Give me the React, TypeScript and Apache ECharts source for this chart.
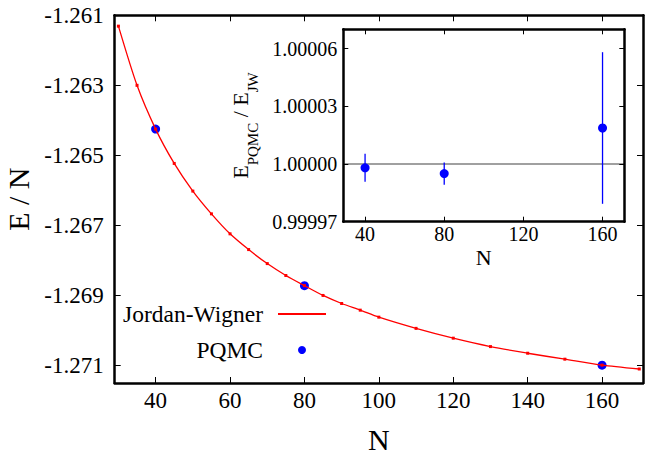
import React, { useEffect, useRef } from "react";
import * as echarts from "echarts";

// Jordan-Wigner curve (main panel)
const jwN = [30, 35, 40, 45, 50, 55, 60, 65, 70, 75, 80, 85, 90, 95, 100, 110, 120, 130, 140, 150, 160, 170];
const jwE = [
  -1.26131, -1.263, -1.26425, -1.26523, -1.26602, -1.26667, -1.26724, -1.26769, -1.26809, -1.26843,
  -1.26872, -1.269, -1.26923, -1.26942, -1.26962, -1.26994, -1.27022, -1.27046, -1.27065, -1.27082,
  -1.27099, -1.2711,
];

// PQMC points (main panel)
const pqmcN = [40, 80, 160];
const pqmcE = [-1.26425, -1.26872, -1.27099];

// Inset: ratio E_PQMC / E_JW with error bars
const ratio = [0.999998, 0.999995, 1.0000187];
const ratioErr = [0.0000073, 0.0000058, 0.0000394];

// Tick values
const mainXTicks = [40, 60, 80, 100, 120, 140, 160];
const mainYTicks = [-1.271, -1.269, -1.267, -1.265, -1.263, -1.261];
const insetXTicks = [40, 80, 120, 160];
const insetYTicks = [0.99997, 1.0, 1.00003, 1.00006];

const SERIF = "Liberation Serif";

export default function App() {
  const ref = useRef<HTMLDivElement>(null);

  useEffect(() => {
    if (!ref.current) return;
    const chart = echarts.init(ref.current, undefined, { renderer: "svg" });

    const frameLine = { lineStyle: { color: "#000", width: 2.5 } };
    const tickStyle = { color: "#000", width: 1 };

    const mkX = (grid: number, pos: string, ticks: number[], len: number, labels: boolean, extra: any = {}) => ({
      type: "value",
      gridIndex: grid,
      position: pos,
      min: 29,
      max: 171,
      axisLine: { show: true, onZero: false, ...frameLine },
      axisTick: { show: true, inside: true, length: len, customValues: ticks, lineStyle: tickStyle },
      axisLabel: labels
        ? { show: true, customValues: ticks, fontFamily: SERIF, color: "#000", ...(extra.label || {}) }
        : { show: false },
      splitLine: { show: false },
      ...(extra.axis || {}),
    });

    const mkY = (grid: number, pos: string, min: number, max: number, ticks: number[], len: number, labels: boolean, extra: any = {}) => ({
      type: "value",
      gridIndex: grid,
      position: pos,
      min,
      max,
      scale: true,
      axisLine: { show: true, onZero: false, ...frameLine },
      axisTick: { show: true, inside: true, length: len, customValues: ticks, lineStyle: tickStyle },
      axisLabel: labels
        ? { show: true, customValues: ticks, fontFamily: SERIF, color: "#000", ...(extra.label || {}) }
        : { show: false },
      splitLine: { show: false },
      ...(extra.axis || {}),
    });

    const option: any = {
      animation: false,
      backgroundColor: "#fff",
      textStyle: { fontFamily: SERIF },
      grid: [
        { left: 114.7, right: 8, top: 15.3, bottom: 73, containLabel: false, outerBoundsMode: "none" },
        {
          left: 343.3, right: 26.7, top: 29.3, bottom: 234.3, containLabel: false, outerBoundsMode: "none",
          show: true, backgroundColor: "#fff", borderWidth: 0, z: 5,
        },
      ],
      xAxis: [
        mkX(0, "bottom", mainXTicks, 6, true, {
          label: { fontSize: 23, margin: 6 },
          axis: { name: "N", nameLocation: "middle", nameGap: 41, nameTextStyle: { fontFamily: SERIF, fontSize: 30, color: "#000" } },
        }),
        mkX(0, "top", mainXTicks, 6, false),
        mkX(1, "bottom", insetXTicks, 5, true, {
          label: { fontSize: 20, margin: 2 },
          axis: { name: "N", nameLocation: "middle", nameGap: 25, nameTextStyle: { fontFamily: SERIF, fontSize: 22, color: "#000" }, z: 6 },
        }),
        mkX(1, "top", insetXTicks, 5, false, { axis: { z: 6 } }),
      ],
      yAxis: [
        mkY(0, "left", -1.2715, -1.261, mainYTicks, 6, true, {
          label: { fontSize: 23, margin: 11 },
          axis: { name: "E / N", nameLocation: "middle", nameGap: 71, nameTextStyle: { fontFamily: SERIF, fontSize: 30, color: "#000" } },
        }),
        mkY(0, "right", -1.2715, -1.261, mainYTicks, 6, false),
        mkY(1, "left", 0.99997, 1.00007, insetYTicks, 5, true, {
          label: { fontSize: 20, margin: 6, formatter: (v: number) => v.toFixed(5) },
          axis: {
            z: 6,
            name: "{m|E}{s|PQMC}{m| / E}{s|JW}",
            nameLocation: "middle",
            nameGap: 83,
            nameTextStyle: {
              fontFamily: SERIF,
              fontSize: 22,
              color: "#000",
              rich: {
                m: { fontFamily: SERIF, fontSize: 22, lineHeight: 22, verticalAlign: "top", color: "#000" },
                s: { fontFamily: SERIF, fontSize: 15, verticalAlign: "top", padding: [16, 0, 0, 0], color: "#000" },
              },
            },
          },
        }),
        mkY(1, "right", 0.99997, 1.00007, insetYTicks, 5, false, { axis: { z: 6 } }),
      ],
      legend: {
        orient: "vertical",
        align: "right",
        right: 324,
        top: 301,
        padding: 0,
        itemWidth: 48,
        itemHeight: 8,
        itemGap: 10,
        selectedMode: false,
        textStyle: { fontFamily: SERIF, fontSize: 23.5, lineHeight: 26, color: "#000", padding: [0, 10, 0, 0] },
        data: [
          { name: "Jordan-Wigner", itemStyle: { opacity: 0 } },
          { name: "PQMC", icon: "circle", itemStyle: { opacity: 1 } },
        ],
      },
      series: [
        {
          name: "Jordan-Wigner",
          type: "line",
          xAxisIndex: 0,
          yAxisIndex: 0,
          data: jwN.map((n, i) => [n, jwE[i]]),
          smooth: 0.25,
          symbol: "rect",
          symbolSize: 3,
          showAllSymbol: true,
          color: "#ff0000",
          itemStyle: { color: "#ff0000" },
          lineStyle: { color: "#ff0000", width: 1.3 },
        },
        {
          name: "PQMC",
          type: "scatter",
          xAxisIndex: 0,
          yAxisIndex: 0,
          data: pqmcN.map((n, i) => [n, pqmcE[i]]),
          symbol: "circle",
          symbolSize: 9,
          itemStyle: { color: "#0000ff", opacity: 1 },
        },
        {
          name: "errbar",
          type: "custom",
          xAxisIndex: 2,
          yAxisIndex: 2,
          z: 7,
          data: pqmcN.map((n, i) => [n, ratio[i] - ratioErr[i], ratio[i] + ratioErr[i]]),
          encode: { x: 0, y: [1, 2] },
          renderItem: (_params: any, api: any) => {
            const x = api.value(0);
            const p1 = api.coord([x, api.value(1)]);
            const p2 = api.coord([x, api.value(2)]);
            return {
              type: "line",
              shape: { x1: p1[0], y1: p1[1], x2: p2[0], y2: p2[1] },
              style: { stroke: "#0000ff", lineWidth: 1.3 },
            };
          },
        },
        {
          name: "PQMC ratio",
          type: "scatter",
          xAxisIndex: 2,
          yAxisIndex: 2,
          z: 8,
          data: pqmcN.map((n, i) => [n, ratio[i]]),
          symbol: "circle",
          symbolSize: 9,
          itemStyle: { color: "#0000ff", opacity: 1 },
          markLine: {
            silent: true,
            symbol: ["none", "none"],
            label: { show: false },
            lineStyle: { color: "#808080", width: 1.5, type: "solid" },
            data: [{ yAxis: 1 }],
          },
        },
      ],
    };

    chart.setOption(option);
    return () => chart.dispose();
  }, []);

  return <div ref={ref} style={{ position: "absolute", left: 0, top: 0, width: 651, height: 456 }} />;
}
